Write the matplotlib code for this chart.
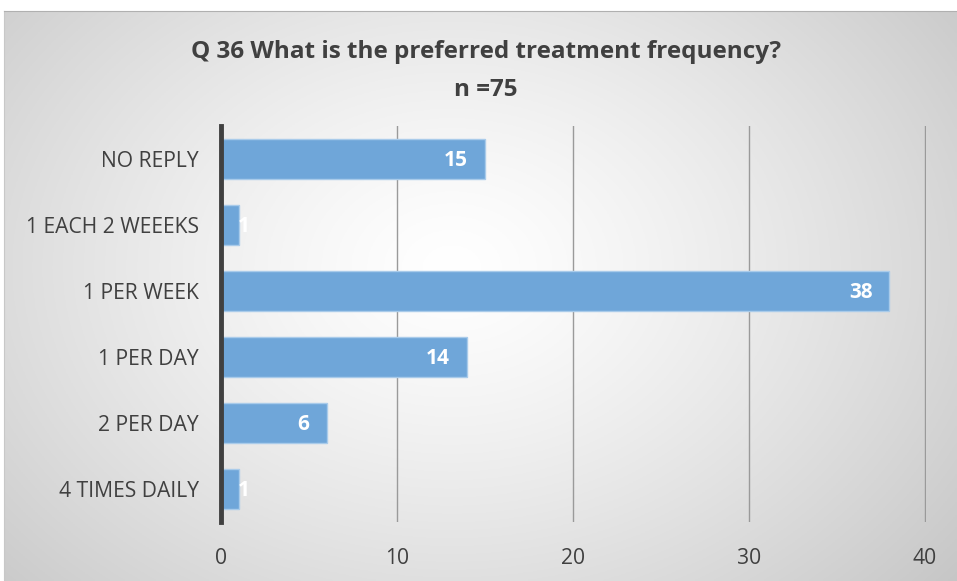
import matplotlib
matplotlib.use("Agg")
import matplotlib.pyplot as plt
import numpy as np

categories = ["NO REPLY", "1 EACH 2 WEEEKS", "1 PER WEEK", "1 PER DAY", "2 PER DAY", "4 TIMES DAILY"]
counts = [15, 1, 38, 14, 6, 1]
title = "Q 36 What is the preferred treatment frequency?\nn =75"

plt.rcParams['font.family'] = ['Open Sans', 'DejaVu Sans']

W, H = 957, 581
fig = plt.figure(figsize=(W / 100, H / 100), dpi=100)
fig.patch.set_facecolor('white')

# radial gradient background of the chart area
bg = fig.add_axes([4 / W, 0, (W - 4) / W, (H - 11) / H])
gx, gy = np.meshgrid(np.linspace(0, 1, 400), np.linspace(0, 1, 250))
r = np.sqrt(((gx - 0.47) / 0.75) ** 2 + ((gy - 0.45) / 0.95) ** 2)
shade = 1.0 - 0.25 * np.clip(r, 0, 1.2) ** 1.3
img = np.dstack([shade, shade, shade])
bg.imshow(img, extent=[0, 1, 0, 1], aspect='auto', origin='upper')
bg.set_xlim(0, 1)
bg.set_ylim(0, 1)
for side in ['right', 'bottom']:
    bg.spines[side].set_visible(False)
bg.spines['top'].set_color('#b0b0b0')
bg.spines['left'].set_color('#c8c8c8')
bg.set_xticks([])
bg.set_yticks([])

ax = fig.add_axes([221 / W, (H - 522) / H, (926 - 221) / W, (522 - 126) / H])
ax.patch.set_alpha(0)

y = np.arange(len(categories))
ax.barh(y, counts, height=0.6, color='#6fa6d9', edgecolor='#a9cbea', linewidth=1, zorder=3)

ax.set_xlim(0, 40.08)
ax.set_ylim(len(categories) - 0.5, -0.5)
ax.set_xticks([0, 10, 20, 30, 40])
ax.set_yticks(y)
ax.set_yticklabels(categories)
ax.tick_params(axis='both', length=0, labelsize=15.2, colors='#404040')
ax.tick_params(axis='y', pad=16)
ax.tick_params(axis='x', pad=19)
ax.grid(axis='x', color='#9a9a9a', linewidth=1, zorder=0)
for side in ['top', 'right', 'bottom']:
    ax.spines[side].set_visible(False)
ax.spines['left'].set_color('#404040')
ax.spines['left'].set_linewidth(3.5)
ax.spines['left'].set_zorder(4)

for yi, v in zip(y, counts):
    if v >= 3:
        ax.annotate(str(v), (v, yi), xytext=(-17, -2), textcoords='offset pixels',
                    ha='right', va='center', color='white', fontsize=15,
                    fontweight='bold', zorder=5)
    else:
        ax.annotate(str(v), (v, yi), xytext=(-1, -2), textcoords='offset pixels',
                    ha='left', va='center', color='white', fontsize=15,
                    fontweight='bold', zorder=5)

fig.text(486 / W, 1 - 71 / H, title, ha='center', va='center', fontsize=17.5,
         fontweight='bold', color='#404040', linespacing=1.75)

fig.savefig('out.png', dpi=100)
